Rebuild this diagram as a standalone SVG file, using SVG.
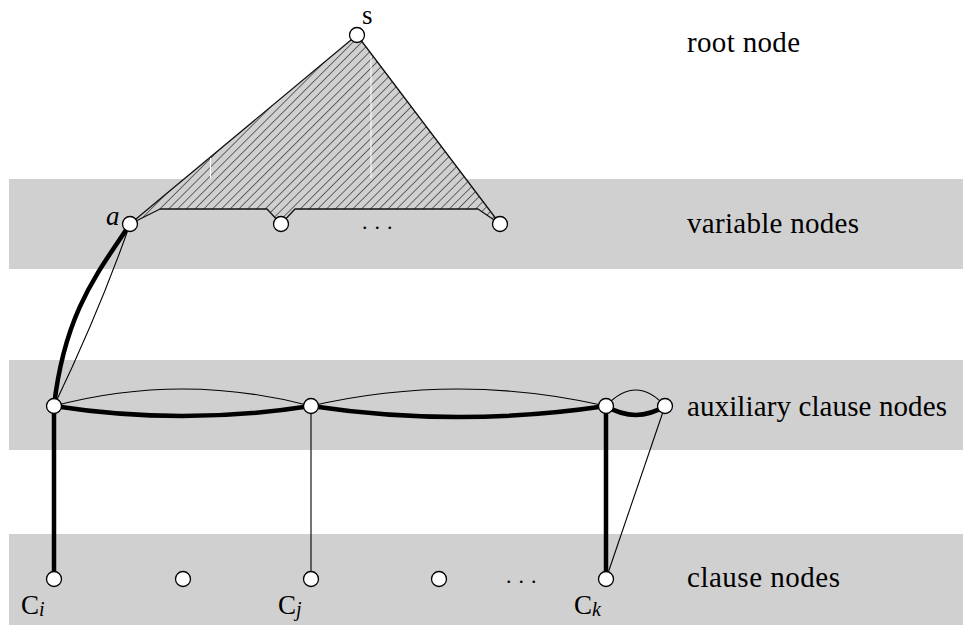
<svg xmlns="http://www.w3.org/2000/svg" width="963" height="625" viewBox="0 0 963 625">
<defs>
<pattern id="hatch" width="6.2" height="6.2" patternUnits="userSpaceOnUse" patternTransform="rotate(45)">
<rect width="6.2" height="6.2" fill="#d0d0d0"/>
<line x1="0" y1="0" x2="0" y2="6.2" stroke="#2a2a2a" stroke-width="1.3"/>
</pattern>
</defs>
<style>
.band{fill:#d0d0d0}
.node{fill:#fff;stroke:#000;stroke-width:1.3}
.thick{fill:none;stroke:#000;stroke-width:4.5;stroke-linecap:round}
.thin{fill:none;stroke:#000;stroke-width:1.1}
.lbl{font-family:"Liberation Serif",serif;font-size:29px;fill:#000}
.math{font-family:"Liberation Serif",serif;font-size:27px;fill:#000}
.dots{font-family:"Liberation Serif",serif;font-size:22px;fill:#000;letter-spacing:7px}
</style>
<rect class="band" x="9" y="179" width="954" height="90"/>
<rect class="band" x="9" y="360" width="954" height="90"/>
<rect class="band" x="9" y="534" width="954" height="91"/>

<g id="tree">
<path d="M357,35 L130,224 L160,209 L267,209 L281,224 L295,209 L478,209 L500,224 Z" fill="url(#hatch)" stroke="#111" stroke-width="1.3" stroke-linejoin="round"/>
<line x1="371" y1="56" x2="371" y2="178" stroke="#fff" stroke-width="1"/>
<line x1="210.5" y1="158" x2="210.5" y2="178" stroke="#fff" stroke-width="1"/>
</g>

<g id="edges">
<path class="thick" d="M130,224 C100,270 65,310 54,406"/>
<path class="thin" d="M130,224 Q100,310 54,406"/>
<path class="thin" d="M54,406 Q182,372 311,406"/>
<path class="thick" d="M54,406 Q182,426 311,406"/>
<path class="thin" d="M311,406 Q458,372 606,406"/>
<path class="thick" d="M311,406 Q458,428 606,406"/>
<path class="thin" d="M606,406 Q636,374 665,406"/>
<path class="thick" d="M606,406 Q636,424 665,406"/>
<line class="thick" x1="54" y1="406" x2="54" y2="579"/>
<line class="thin" x1="311" y1="406" x2="311" y2="579"/>
<line class="thick" x1="606" y1="406" x2="606" y2="579"/>
<line class="thin" x1="665" y1="406" x2="606" y2="579"/>
</g>

<g id="root"><circle class="node" cx="357" cy="35" r="7.5"/><text class="math" x="362" y="24">s</text></g>
<g id="var-a"><circle class="node" cx="130" cy="224" r="7.5"/><text class="math" x="106" y="225" font-style="italic">a</text></g>
<g id="var-2"><circle class="node" cx="281" cy="224" r="7.5"/></g>
<text class="dots" x="362" y="229">...</text>
<g id="var-3"><circle class="node" cx="500" cy="224" r="7.5"/></g>

<g id="aux-1"><circle class="node" cx="54" cy="406" r="7.5"/></g>
<g id="aux-2"><circle class="node" cx="311" cy="406" r="7.5"/></g>
<g id="aux-3"><circle class="node" cx="606" cy="406" r="7.5"/></g>
<g id="aux-4"><circle class="node" cx="665" cy="406" r="7.5"/></g>

<g id="clause-i"><circle class="node" cx="54" cy="579" r="7.5"/><text class="math" x="21" y="614">C<tspan font-size="20" dy="2" font-style="italic">i</tspan></text></g>
<g id="clause-2"><circle class="node" cx="183" cy="579" r="7.5"/></g>
<g id="clause-j"><circle class="node" cx="311" cy="579" r="7.5"/><text class="math" x="278" y="614">C<tspan font-size="20" dy="2" font-style="italic">j</tspan></text></g>
<g id="clause-4"><circle class="node" cx="439" cy="579" r="7.5"/></g>
<text class="dots" x="506" y="583">...</text>
<g id="clause-k"><circle class="node" cx="606" cy="579" r="7.5"/><text class="math" x="574" y="614">C<tspan font-size="20" dy="2" font-style="italic">k</tspan></text></g>

<g id="labels">
<text class="lbl" x="687" y="52" textLength="113" lengthAdjust="spacing">root node</text>
<text class="lbl" x="687" y="233" textLength="172" lengthAdjust="spacing">variable nodes</text>
<text class="lbl" x="687" y="416" textLength="260" lengthAdjust="spacing">auxiliary clause nodes</text>
<text class="lbl" x="687" y="587" textLength="153" lengthAdjust="spacing">clause nodes</text>
</g>
</svg>
